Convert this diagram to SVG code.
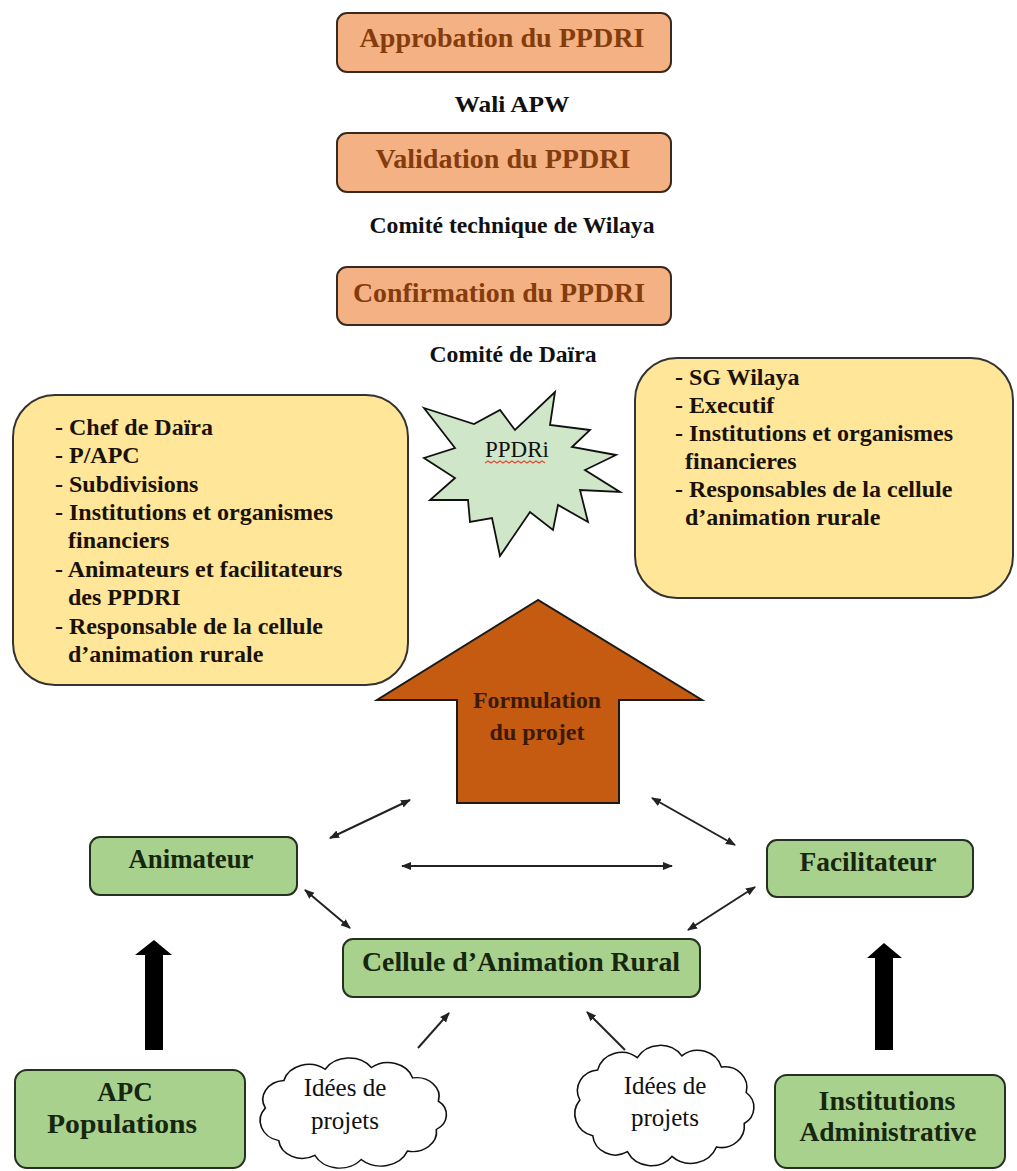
<svg xmlns="http://www.w3.org/2000/svg" width="1017" height="1171" viewBox="0 0 1017 1171">
<style>
text{font-family:"Liberation Serif","Times New Roman",serif;}
.t{font-weight:bold;}
.orange rect{fill:#f4b183;stroke:#3a2a1e;stroke-width:2;}
.otxt{font-size:27px;fill:#843c0c;text-anchor:middle;}
.lbl{font-size:23px;fill:#111;text-anchor:middle;}
.yel rect{fill:#ffe699;stroke:#333;stroke-width:2;}
.ytxt{font-size:24px;fill:#1a1208;}
.grn rect{fill:#a9d18e;stroke:#263020;stroke-width:2;}
.gtxt{font-size:27px;fill:#17260e;text-anchor:middle;}
.ftxt{font-size:24px;fill:#3a1a05;text-anchor:middle;}
.ctxt{font-size:25px;fill:#111;text-anchor:middle;}
.con line{stroke:#222;stroke-width:2;}
</style>
<defs>
<marker id="ah" viewBox="0 0 10 10" refX="9" refY="5" markerWidth="10" markerHeight="10" markerUnits="userSpaceOnUse" orient="auto-start-reverse"><path d="M0,1 L10,5 L0,9 z" fill="#222"/></marker>
<path id="cloud" d="M12,50 A22,22 0 0 1 30,18 A25,25 0 0 1 70,5 A27,27 0 0 1 115,3 A25,25 0 0 1 155,15 A22,22 0 0 1 180,42 A20,20 0 0 1 178,75 A23,23 0 0 1 150,100 A28,28 0 0 1 105,110 A27,27 0 0 1 60,105 A23,23 0 0 1 25,88 A24,24 0 0 1 12,50 Z"/>
</defs>
<rect width="1017" height="1171" fill="#fff"/>

<g id="approbation" class="orange"><rect x="337" y="13" width="334" height="59" rx="10"/><text class="t otxt" x="502" y="47" textLength="285" lengthAdjust="spacingAndGlyphs">Approbation du PPDRI</text></g>
<g id="wali"><text class="t lbl" x="512" y="112" textLength="115" lengthAdjust="spacingAndGlyphs">Wali APW</text></g>
<g id="validation" class="orange"><rect x="337" y="133" width="334" height="59" rx="10"/><text class="t otxt" x="503" y="168" textLength="255" lengthAdjust="spacingAndGlyphs">Validation du PPDRI</text></g>
<g id="comite-tech"><text class="t lbl" x="512" y="233" textLength="285" lengthAdjust="spacingAndGlyphs">Comité technique de Wilaya</text></g>
<g id="confirmation" class="orange"><rect x="337" y="267" width="334" height="58" rx="10"/><text class="t otxt" x="499" y="302" textLength="292" lengthAdjust="spacingAndGlyphs">Confirmation du PPDRI</text></g>
<g id="comite-daira"><text class="t lbl" x="513" y="362" textLength="167" lengthAdjust="spacingAndGlyphs">Comité de Daïra</text></g>

<g id="left-box" class="yel"><rect x="13" y="395" width="395" height="290" rx="42"/>
<text class="t ytxt"><tspan x="55" y="435">- Chef de Daïra</tspan><tspan x="55" y="463">- P/APC</tspan><tspan x="55" y="492">- Subdivisions</tspan><tspan x="55" y="520">- Institutions et organismes</tspan><tspan x="68" y="548">financiers</tspan><tspan x="55" y="577">- Animateurs et facilitateurs</tspan><tspan x="68" y="605">des PPDRI</tspan><tspan x="55" y="634">- Responsable de la cellule</tspan><tspan x="68" y="662">d’animation rurale</tspan></text></g>

<g id="right-box" class="yel"><rect x="635" y="358" width="378" height="240" rx="42"/>
<text class="t ytxt"><tspan x="675" y="385">- SG Wilaya</tspan><tspan x="675" y="413">- Executif</tspan><tspan x="675" y="441">- Institutions et organismes</tspan><tspan x="685" y="469">financieres</tspan><tspan x="675" y="497">- Responsables de la cellule</tspan><tspan x="685" y="525">d’animation rurale</tspan></text></g>

<g id="ppdri">
<path d="M424,408 L474,424 L500,410 L515,430 L555,392 L550,425 L590,430 L572,447 L616,455 L585,470 L620,492 L580,490 L588,522 L558,505 L553,530 L530,512 L500,556 L492,518 L470,522 L468,500 L430,500 L455,478 L424,458 L455,448 Z" fill="#cfe6c8" stroke="#111" stroke-width="1.8"/>
<text x="517" y="457" style="font-size:23px;fill:#111;text-anchor:middle">PPDRi</text>
<path d="M485,463 l3,-2 l3,2 l3,-2 l3,2 l3,-2 l3,2 l3,-2 l3,2 l3,-2 l3,2 l3,-2 l3,2 l3,-2 l3,2 l3,-2 l3,2 l3,-2 l3,2 l3,-2 l3,2" fill="none" stroke="#e04a3a" stroke-width="1.2"/>
</g>

<g id="formulation">
<path d="M538,600 L377,700 L457,700 L457,803 L619,803 L619,700 L702,700 Z" fill="#c55a11" stroke="#1a1a1a" stroke-width="2"/>
<text class="t ftxt" x="537" y="708" textLength="128" lengthAdjust="spacingAndGlyphs">Formulation</text>
<text class="t ftxt" x="537" y="740">du projet</text>
</g>

<g id="animateur" class="grn"><rect x="90" y="837" width="207" height="58" rx="10"/><text class="t gtxt" x="191" y="868" textLength="125" lengthAdjust="spacingAndGlyphs">Animateur</text></g>
<g id="facilitateur" class="grn"><rect x="767" y="840" width="206" height="57" rx="10"/><text class="t gtxt" x="868" y="871" textLength="137" lengthAdjust="spacingAndGlyphs">Facilitateur</text></g>
<g id="cellule" class="grn"><rect x="343" y="939" width="357" height="58" rx="10"/><text class="t gtxt" x="521" y="971" textLength="318" lengthAdjust="spacingAndGlyphs">Cellule d’Animation Rural</text></g>
<g id="apc" class="grn"><rect x="15" y="1070" width="230" height="98" rx="12"/><text class="t gtxt" x="125" y="1101">APC</text><text class="t gtxt" x="122" y="1133" textLength="150" lengthAdjust="spacingAndGlyphs">Populations</text></g>
<g id="institutions" class="grn"><rect x="775" y="1075" width="230" height="93" rx="12"/><text class="t gtxt" x="887" y="1110" textLength="137" lengthAdjust="spacingAndGlyphs">Institutions</text><text class="t gtxt" x="888" y="1141" textLength="177" lengthAdjust="spacingAndGlyphs">Administrative</text></g>

<g id="idees-1"><use href="#cloud" transform="translate(253,1065) scale(1.03,0.86)" fill="#fff" stroke="#111" stroke-width="1.6" vector-effect="non-scaling-stroke"/><text class="ctxt" x="345" y="1096">Idées de</text><text class="ctxt" x="345" y="1129">projets</text></g>
<g id="idees-2"><use href="#cloud" transform="translate(568,1053) scale(0.99,0.94)" fill="#fff" stroke="#111" stroke-width="1.6" vector-effect="non-scaling-stroke"/><text class="ctxt" x="665" y="1094">Idées de</text><text class="ctxt" x="665" y="1126">projets</text></g>

<g id="connectors" class="con">
<line x1="330" y1="838" x2="410" y2="800" marker-start="url(#ah)" marker-end="url(#ah)"/>
<line x1="652" y1="798" x2="735" y2="845" marker-start="url(#ah)" marker-end="url(#ah)"/>
<line x1="402" y1="866" x2="672" y2="866" marker-start="url(#ah)" marker-end="url(#ah)"/>
<line x1="305" y1="890" x2="350" y2="928" marker-start="url(#ah)" marker-end="url(#ah)"/>
<line x1="688" y1="930" x2="755" y2="887" marker-start="url(#ah)" marker-end="url(#ah)"/>
<line x1="418" y1="1048" x2="449" y2="1013" marker-end="url(#ah)"/>
<line x1="625" y1="1050" x2="587" y2="1012" marker-end="url(#ah)"/>
<path d="M145,1050 L145,955 L135,955 L154,940 L172,955 L163,955 L163,1050 Z" fill="#000"/>
<path d="M875,1050 L875,958 L867,958 L884,943 L902,958 L893,958 L893,1050 Z" fill="#000"/>
</g>
</svg>
